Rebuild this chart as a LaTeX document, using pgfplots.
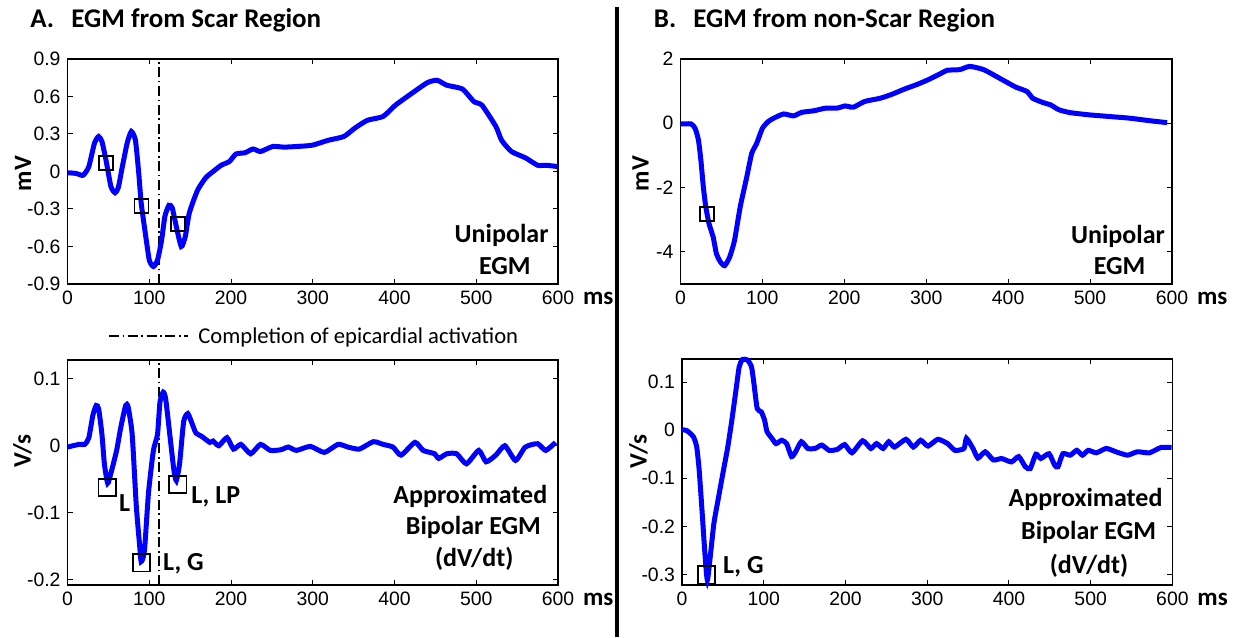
\documentclass[border=0pt]{standalone}
\usepackage{fontspec}
\setmainfont{Carlito}
\newfontfamily\arialf{Liberation Sans}
\usepackage{pgfplots}
\pgfplotsset{compat=1.18}
\pgfplotsset{
  egm/.style={
    scale only axis,
    width=245.2pt, height=112.5pt,
    xmin=0, xmax=600,
    xtick={0,100,200,300,400,500,600},
    xticklabels={0,100,200,300,400,500,600},
    tick align=inside,
    major tick length=2.5pt,
    axis line style={line width=0.6pt},
    every tick/.style={black, line width=0.5pt},
    ticklabel style={font=\arialf\fontsize{9.7}{11}\selectfont},
    clip=false,
    xlabel={ms},
    xlabel style={font=\bfseries\fontsize{12.5}{14}\selectfont, at={(axis description cs:1,0)}, anchor=west, xshift=9pt, yshift=-7pt},
    ylabel style={font=\bfseries\fontsize{12.5}{14}\selectfont, anchor=center},
  },
  trace/.style={color={rgb,255:red,0;green,0;blue,255}, line width=2.5pt, smooth, tension=0.35, no marks},
  box/.style={only marks, mark=square, mark size=#1, mark options={black, line width=0.9pt}},
  vline/.style={black, line width=0.7pt, dash pattern=on 5pt off 1.8pt on 0.8pt off 1.8pt, no marks},
}
\tikzset{ann/.style={font=\bfseries\fontsize{13}{15}\selectfont, inner sep=0pt, anchor=base}}
\begin{document}
\begin{tikzpicture}
\useasboundingbox (0,0) rectangle (618pt,318.5pt);
% titles
\node[anchor=base west, inner sep=0pt, font=\bfseries\fontsize{13.5}{16}\selectfont] at (15pt,304.5pt) {A.};
\node[anchor=base west, inner sep=0pt, font=\bfseries\fontsize{13.5}{16}\selectfont] at (35.5pt,304.5pt) {EGM from Scar Region};
\node[anchor=base west, inner sep=0pt, font=\bfseries\fontsize{13.5}{16}\selectfont] at (326.75pt,304.5pt) {B.};
\node[anchor=base west, inner sep=0pt, font=\bfseries\fontsize{13.5}{16}\selectfont] at (346.5pt,304.5pt) {EGM from non-Scar Region};
% divider
\draw[line width=1.6pt] (308.5pt,0pt) -- (308.5pt,315pt);
% legend
\draw[black, line width=0.7pt, dash pattern=on 5pt off 1.8pt on 0.8pt off 1.8pt] (54.5pt,150.5pt) -- (94pt,150.5pt);
\node[anchor=base west, inner sep=0pt, font=\fontsize{11.3}{13}\selectfont] at (99pt,146.85pt) {Completion of epicardial activation};

% ---------- A top
\begin{axis}[egm, at={(33.8pt,176.5pt)}, anchor=south west,
  ymin=-0.9, ymax=0.9, ytick={-0.9,-0.6,-0.3,0,0.3,0.6,0.9},
  yticklabels={-0.9,-0.6,-0.3,0,0.3,0.6,0.9},
  ylabel={mV}, ylabel style={at={(axis description cs:-0.091,0.49)}}]
\addplot[vline] coordinates {(112,-0.9) (112,0.9)};
\addplot[trace] coordinates {(0,-0.01)(10,-0.015)(19,-0.03)(26,0.04)(33,0.23)(38,0.28)(42,0.24)(47,0.09)(53,-0.12)(58,-0.17)(62,-0.13)(67,0.04)(73,0.23)(78,0.32)(83,0.25)(87,-0.01)(90,-0.25)(95,-0.49)(100,-0.71)(105,-0.76)(110,-0.71)(115,-0.55)(119,-0.36)(124,-0.27)(128,-0.29)(132,-0.41)(139,-0.60)(144,-0.52)(149,-0.33)(159,-0.15)(169,-0.05)(178,0)(188,0.05)(198,0.08)(206,0.14)(217,0.15)(227,0.18)(236,0.16)(251,0.20)(265,0.195)(280,0.20)(299,0.21)(319,0.25)(338,0.28)(352,0.35)(367,0.41)(386,0.44)(401,0.53)(420,0.62)(440,0.71)(452,0.73)(464,0.69)(483,0.66)(497,0.56)(507,0.53)(524,0.36)(531,0.25)(543,0.16)(560,0.11)(575,0.05)(585,0.05)(599,0.04)};
\addplot[box=3.5pt] coordinates {(47.4,0.067)(90.4,-0.275)(134.9,-0.419)};
\node[ann] at (axis cs:531,-0.569) {Unipolar};
\node[ann] at (axis cs:535,-0.828) {EGM};
\end{axis}

% ---------- A bottom
\begin{axis}[egm, at={(33.8pt,26pt)}, anchor=south west,
  ymin=-0.208, ymax=0.128, ytick={-0.2,-0.1,0,0.1},
  yticklabels={-0.2,-0.1,0,0.1},
  ylabel={V/s}, ylabel style={at={(axis description cs:-0.092,0.596)}}]
\addplot[vline] coordinates {(112,-0.208) (112,0.128)};
\addplot[trace] coordinates {(0,-0.002)(14,0.002)(21,0.002)(26,0.012)(31,0.046)(35,0.06)(38,0.055)(42,0.017)(45,-0.027)(49,-0.056)(53,-0.041)(60,-0.007)(65,0.027)(71,0.06)(74,0.058)(79,0.017)(84,-0.089)(88,-0.147)(90,-0.173)(94,-0.157)(99,-0.07)(105,-0.007)(110,0.017)(113,0.065)(117,0.08)(120,0.07)(125,0.017)(130,-0.036)(133,-0.052)(137,-0.027)(142,0.036)(147,0.048)(152,0.034)(157,0.019)(164,0.014)(174,0.005)(178,0.007)(185,0)(195,0.012)(203,-0.005)(212,0.002)(224,-0.012)(236,0.002)(248,-0.007)(261,-0.006)(270,-0.002)(280,-0.007)(297,-0.001)(314,-0.01)(331,0.002)(343,-0.002)(357,-0.005)(374,0.006)(386,0.002)(398,-0.002)(408,-0.014)(425,0.005)(435,-0.007)(449,-0.012)(454,-0.019)(464,-0.012)(476,-0.012)(488,-0.027)(503,-0.007)(512,-0.024)(524,-0.014)(535,0)(548,-0.022)(560,-0.002)(575,0.003)(585,-0.007)(597,0.005)};
\addplot[box=4.3pt] coordinates {(48.4,-0.0627)(90.4,-0.175)(134.9,-0.058)};
\node[ann, anchor=base west] at (axis cs:62.4,-0.0988) {L};
\node[ann, anchor=base west] at (axis cs:150.9,-0.0867) {L, LP};
\node[ann, anchor=base west] at (axis cs:116.5,-0.187) {L, G};
\node[ann] at (axis cs:492.7,-0.0867) {Approximated};
\node[ann] at (axis cs:496.5,-0.1325) {Bipolar EGM};
\node[ann] at (axis cs:497.5,-0.1807) {(dV/dt)};
\end{axis}

% ---------- B top
\begin{axis}[egm, at={(340.2pt,176.5pt)}, anchor=south west, width=245.8pt,
  ymin=-5, ymax=2, ytick={-4,-2,0,2},
  yticklabels={-4,-2,0,2},
  ylabel={mV}, ylabel style={at={(axis description cs:-0.081,0.49)}}]
\addplot[trace] coordinates {(0,-0.02)(13,-0.02)(18,-0.16)(22,-0.52)(25,-1.15)(28,-1.98)(31,-2.6)(35,-3.13)(40,-3.54)(44,-4.06)(49,-4.32)(54,-4.43)(60,-4.17)(66,-3.65)(73,-2.6)(81,-1.67)(87,-0.94)(93,-0.63)(100,-0.16)(107,0.05)(114,0.16)(126,0.29)(138,0.23)(148,0.34)(163,0.39)(177,0.47)(191,0.47)(201,0.54)(211,0.5)(225,0.68)(244,0.78)(259,0.91)(273,1.06)(288,1.2)(302,1.35)(317,1.54)(326,1.65)(341,1.67)(353,1.77)(370,1.67)(389,1.41)(409,1.13)(423,0.99)(430,0.78)(442,0.65)(452,0.57)(462,0.42)(476,0.33)(500,0.26)(524,0.21)(548,0.16)(573,0.08)(594,0.02)};
\addplot[box=3.5pt] coordinates {(32.3,-2.81)};
\node[ann] at (axis cs:534,-3.73) {Unipolar};
\node[ann] at (axis cs:536,-4.71) {EGM};
\end{axis}

% ---------- B bottom
\begin{axis}[egm, at={(341pt,26pt)}, anchor=south west, height=113pt,
  ymin=-0.322, ymax=0.148, ytick={-0.3,-0.2,-0.1,0,0.1},
  yticklabels={-0.3,-0.2,-0.1,0,0.1},
  ylabel={V/s}, ylabel style={at={(axis description cs:-0.089,0.59)}}]
\addplot[trace] coordinates {(0,0.001)(6,-0.001)(14,-0.014)(18,-0.035)(21,-0.083)(25,-0.18)(28,-0.256)(31,-0.312)(35,-0.256)(39,-0.194)(44,-0.146)(50,-0.09)(56,-0.035)(61,0.021)(66,0.083)(70,0.132)(74,0.147)(80,0.146)(85,0.132)(88,0.097)(92,0.045)(97,0.038)(101,0.021)(104,-0.003)(110,-0.017)(115,-0.028)(122,-0.021)(128,-0.028)(134,-0.055)(139,-0.045)(146,-0.024)(154,-0.038)(163,-0.038)(171,-0.031)(180,-0.042)(190,-0.040)(199,-0.030)(208,-0.047)(221,-0.022)(231,-0.038)(238,-0.028)(246,-0.038)(253,-0.024)(260,-0.035)(274,-0.019)(283,-0.035)(292,-0.021)(301,-0.033)(313,-0.019)(325,-0.028)(334,-0.042)(345,-0.038)(348,-0.017)(356,-0.038)(362,-0.058)(371,-0.045)(381,-0.062)(391,-0.059)(403,-0.066)(412,-0.055)(420,-0.076)(426,-0.08)(433,-0.05)(439,-0.059)(449,-0.049)(456,-0.073)(460,-0.076)(466,-0.049)(475,-0.052)(483,-0.042)(490,-0.052)(497,-0.042)(507,-0.047)(519,-0.038)(531,-0.045)(545,-0.052)(557,-0.045)(572,-0.047)(586,-0.036)(599,-0.036)};
\addplot[box=4.3pt] coordinates {(30,-0.301)};
\node[ann, anchor=base west] at (axis cs:49.8,-0.298) {L, G};
\node[ann] at (axis cs:493.7,-0.159) {Approximated};
\node[ann] at (axis cs:497.5,-0.227) {Bipolar EGM};
\node[ann] at (axis cs:498,-0.298) {(dV/dt)};
\end{axis}
\end{tikzpicture}
\end{document}
